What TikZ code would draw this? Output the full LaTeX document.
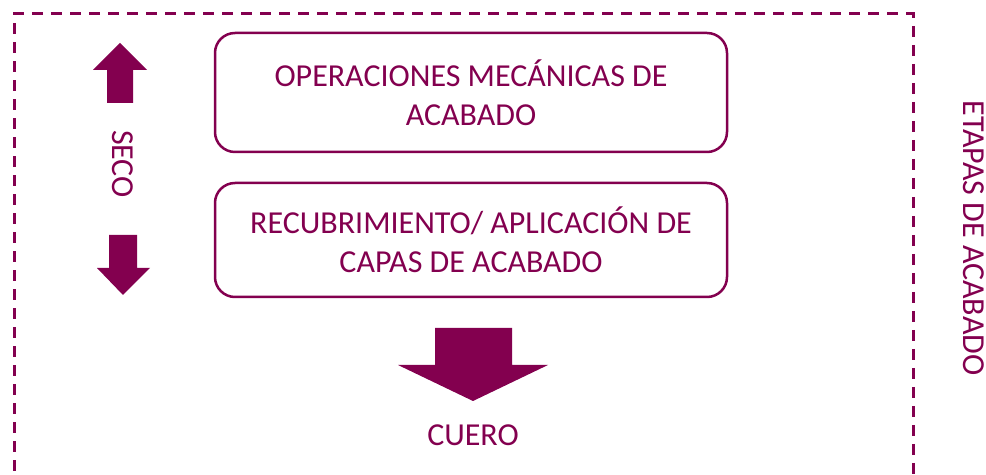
\documentclass[tikz,border=0pt]{standalone}
\usepackage{fontspec}
\setmainfont{Carlito}
\definecolor{vino}{RGB}{131,0,79}
\begin{document}
\begin{tikzpicture}
  [x=0.5pt,y=-0.5pt,every node/.style={text=vino,font=\fontsize{16}{19.5}\selectfont,align=center},
   etapa/.style={draw=vino,line width=1.25pt,rounded corners=10pt,minimum width=256pt}]
  \clip (0,0) rectangle (986,475);
  \draw[vino,line width=1.5pt,dash pattern=on 5.5pt off 4pt] (14,490) -- (14,14) -- (913,14) -- (913,490);
  \node (mec)[etapa,minimum height=59.5pt] at (471,92.5) {OPERACIONES MECÁNICAS DE\\ACABADO};
  \node (rec)[etapa,minimum height=57pt] at (471,240) {RECUBRIMIENTO/ APLICACIÓN DE\\CAPAS DE ACABADO};
  \node (seco)[rotate=-90] at (123,164) {SECO};
  \node (cuero) at (473,435) {CUERO};
  \node (etapas)[rotate=-90] at (974,238) {ETAPAS DE ACABADO};
  \fill[vino] (107,103) -- (107,70) -- (93,70) -- (120,43) -- (147,70) -- (133,70) -- (133,103) -- cycle;
  \fill[vino] (109,235) -- (109,268) -- (97,268) -- (123,295) -- (150,268) -- (137,268) -- (137,235) -- cycle;
  \fill[vino] (435,328) -- (435,365) -- (398,365) -- (473,401) -- (548,365) -- (512,365) -- (512,328) -- cycle;
\end{tikzpicture}
\end{document}
